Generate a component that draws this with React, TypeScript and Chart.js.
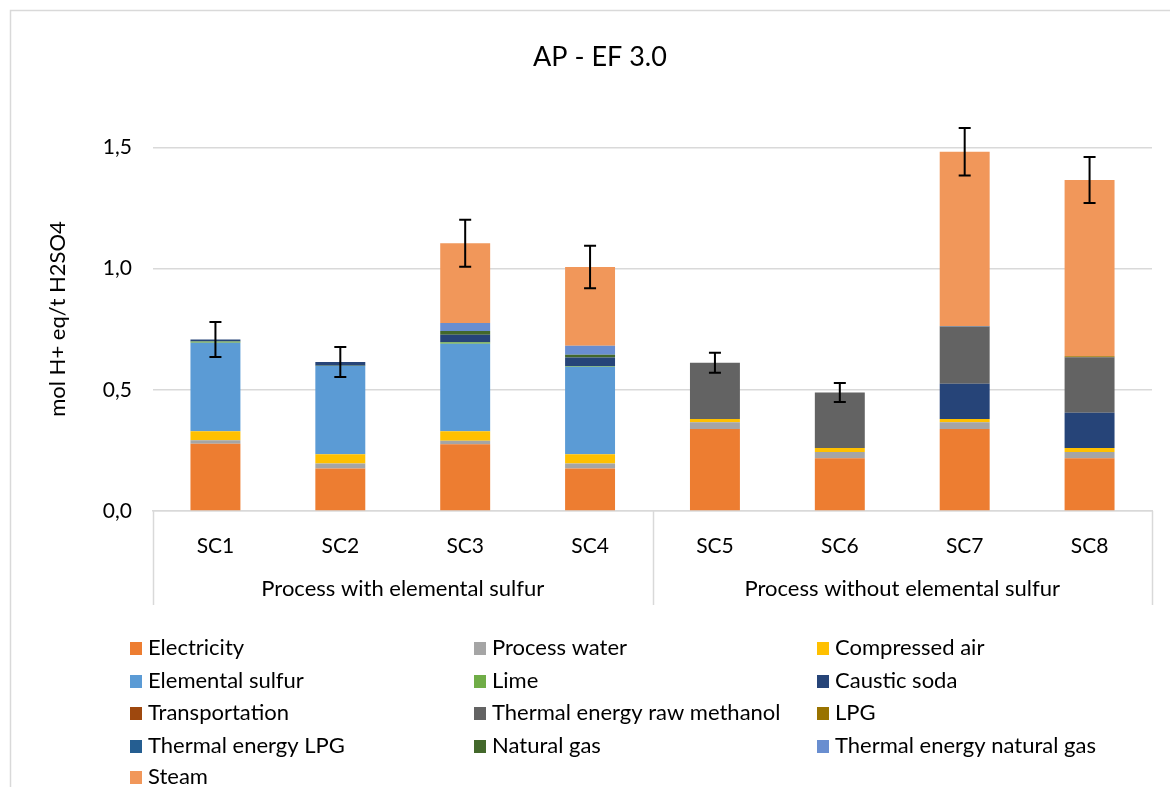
import React, { useEffect, useRef } from "react";
import { Chart, registerables } from "chart.js";

Chart.register(...registerables);

const scenarios = ["SC1", "SC2", "SC3", "SC4", "SC5", "SC6", "SC7", "SC8"];
const groupLabels = ["Process with elemental sulfur", "Process without elemental sulfur"];
const groupSizes = [4, 4];
const yTickValues = [0, 0.5, 1.0, 1.5];
const chartTitle = "AP - EF 3.0";
const yAxisTitle = "mol H+ eq/t H2SO4";

const electricity = [0.278, 0.175, 0.276, 0.175, 0.338, 0.218, 0.338, 0.218];
const processWater = [0.014, 0.021, 0.014, 0.021, 0.028, 0.025, 0.028, 0.025];
const compressedAir = [0.037, 0.038, 0.039, 0.038, 0.014, 0.017, 0.014, 0.017];
const elementalSulfur = [0.365, 0.364, 0.361, 0.361, 0, 0, 0, 0];
const lime = [0.006, 0.002, 0.006, 0.003, 0, 0, 0, 0];
const causticSoda = [0.008, 0.015, 0.031, 0.036, 0, 0, 0.145, 0.145];
const transportation = [0, 0, 0, 0, 0, 0, 0, 0];
const thermalRawMethanol = [0, 0, 0, 0, 0.232, 0.229, 0.235, 0.23];
const lpg = [0, 0, 0, 0, 0, 0, 0, 0.004];
const thermalLPG = [0, 0, 0, 0, 0, 0, 0.003, 0];
const naturalGas = [0, 0, 0.016, 0.011, 0, 0, 0, 0];
const thermalNaturalGas = [0, 0, 0.033, 0.037, 0, 0, 0, 0];
const steam = [0, 0, 0.329, 0.325, 0, 0, 0.72, 0.727];
const errorValues = [0.072, 0.062, 0.097, 0.088, 0.041, 0.039, 0.098, 0.095];

const seriesNames = [
  "Electricity",
  "Process water",
  "Compressed air",
  "Elemental sulfur",
  "Lime",
  "Caustic soda",
  "Transportation",
  "Thermal energy raw methanol",
  "LPG",
  "Thermal energy LPG",
  "Natural gas",
  "Thermal energy natural gas",
  "Steam",
];
const seriesValues = [
  electricity,
  processWater,
  compressedAir,
  elementalSulfur,
  lime,
  causticSoda,
  transportation,
  thermalRawMethanol,
  lpg,
  thermalLPG,
  naturalGas,
  thermalNaturalGas,
  steam,
];
const seriesColors = [
  "#ED7D31",
  "#A5A5A5",
  "#FFC000",
  "#5B9BD5",
  "#70AD47",
  "#264478",
  "#9E480E",
  "#636363",
  "#997300",
  "#255E91",
  "#43682B",
  "#698ED0",
  "#F1975A",
];

const FONT = "Lato, 'Open Sans', sans-serif";
const GRID = "#D9D9D9";

const overlayPlugin = {
  id: "overlay",
  beforeDraw(chart: any) {
    const ctx = chart.ctx;
    ctx.save();
    ctx.fillStyle = "#FFFFFF";
    ctx.fillRect(0, 0, chart.width, chart.height);
    ctx.strokeStyle = GRID;
    ctx.lineWidth = 1.5;
    ctx.strokeRect(10.5, 10.5, chart.width + 20, chart.height + 20);
    ctx.restore();
  },
  afterDraw(chart: any) {
    const ctx = chart.ctx;
    const xs = chart.scales.x;
    const ys = chart.scales.y;
    const area = chart.chartArea;
    ctx.save();

    // title
    ctx.fillStyle = "#000000";
    ctx.font = `27px ${FONT}`;
    ctx.textAlign = "center";
    ctx.textBaseline = "middle";
    ctx.fillText(chartTitle, 600, 57);

    // y axis title
    ctx.save();
    ctx.translate(58, (area.top + area.bottom) / 2 + 20);
    ctx.rotate(-Math.PI / 2);
    ctx.font = `22px ${FONT}`;
    ctx.fillText(yAxisTitle, 0, 0);
    ctx.restore();

    // group separators and labels
    ctx.strokeStyle = GRID;
    ctx.lineWidth = 1.5;
    let start = 0;
    const boundaries = [start];
    groupSizes.forEach((n) => {
      start += n;
      boundaries.push(start);
    });
    boundaries.forEach((b) => {
      const x = Math.round(xs.getPixelForValue(b - 0.5)) + 0.5;
      ctx.beginPath();
      ctx.moveTo(x, area.bottom);
      ctx.lineTo(x, area.bottom + 94);
      ctx.stroke();
    });
    ctx.fillStyle = "#000000";
    ctx.font = `22px ${FONT}`;
    groupLabels.forEach((g, i) => {
      const x0 = xs.getPixelForValue(boundaries[i] - 0.5);
      const x1 = xs.getPixelForValue(boundaries[i + 1] - 0.5);
      ctx.fillText(g, (x0 + x1) / 2, 589);
    });

    // error bars
    ctx.strokeStyle = "#000000";
    ctx.lineWidth = 2;
    scenarios.forEach((_, i) => {
      let total = 0;
      seriesValues.forEach((s) => (total += s[i]));
      const x = xs.getPixelForValue(i);
      const yTop = ys.getPixelForValue(total + errorValues[i]);
      const yBot = ys.getPixelForValue(total - errorValues[i]);
      ctx.beginPath();
      ctx.moveTo(x, yTop);
      ctx.lineTo(x, yBot);
      ctx.moveTo(x - 6, yTop);
      ctx.lineTo(x + 6, yTop);
      ctx.moveTo(x - 6, yBot);
      ctx.lineTo(x + 6, yBot);
      ctx.stroke();
    });

    // legend
    const colX = [130, 474, 817];
    const rowY = [648, 681, 713, 746, 777];
    ctx.textAlign = "left";
    ctx.textBaseline = "middle";
    ctx.font = `22px ${FONT}`;
    seriesNames.forEach((name, i) => {
      const c = i % 3;
      const r = Math.floor(i / 3);
      const x = colX[c];
      const y = rowY[r];
      ctx.fillStyle = seriesColors[i];
      ctx.fillRect(x, y - 6, 12, 13);
      ctx.fillStyle = "#000000";
      ctx.fillText(name, x + 18, y);
    });

    ctx.restore();
  },
};

export default function App() {
  const canvasRef = useRef<HTMLCanvasElement>(null);

  useEffect(() => {
    document.body.style.margin = "0";
    const canvas = canvasRef.current;
    if (!canvas) return;
    const chart = new Chart(canvas, {
      type: "bar",
      data: {
        labels: scenarios,
        datasets: seriesNames.map((name, i) => ({
          label: name,
          data: seriesValues[i],
          backgroundColor: seriesColors[i],
          borderWidth: 0,
          categoryPercentage: 1,
          barPercentage: 0.4,
        })),
      },
      options: {
        responsive: false,
        animation: false,
        devicePixelRatio: 1,
        layout: { padding: { left: 20, top: 87, right: 18, bottom: 176 } },
        plugins: {
          legend: { display: false },
          title: { display: false },
          tooltip: { enabled: false },
        },
        scales: {
          x: {
            stacked: true,
            grid: { display: false, drawTicks: false },
            border: { display: true, color: GRID, width: 1.5 },
            ticks: {
              color: "#000000",
              font: { family: FONT, size: 21 },
              padding: 23,
              maxRotation: 0,
            },
            afterFit: (scale: any) => {
              scale.height = 100;
            },
          },
          y: {
            stacked: true,
            min: 0,
            max: 1.75,
            grid: { color: GRID, lineWidth: 1.5, drawTicks: false },
            border: { display: false },
            afterBuildTicks: (scale: any) => {
              scale.ticks = yTickValues.map((v) => ({ value: v }));
            },
            ticks: {
              color: "#000000",
              font: { family: FONT, size: 21 },
              padding: 21,
              callback: (v: any) => Number(v).toFixed(1).replace(".", ","),
            },
            afterFit: (scale: any) => {
              scale.width = 133;
            },
          },
        },
      },
      plugins: [overlayPlugin],
    });
    return () => chart.destroy();
  }, []);

  return (
    <div style={{ width: 1170, height: 787 }}>
      <canvas ref={canvasRef} width={1170} height={787} style={{ display: "block" }} />
    </div>
  );
}
